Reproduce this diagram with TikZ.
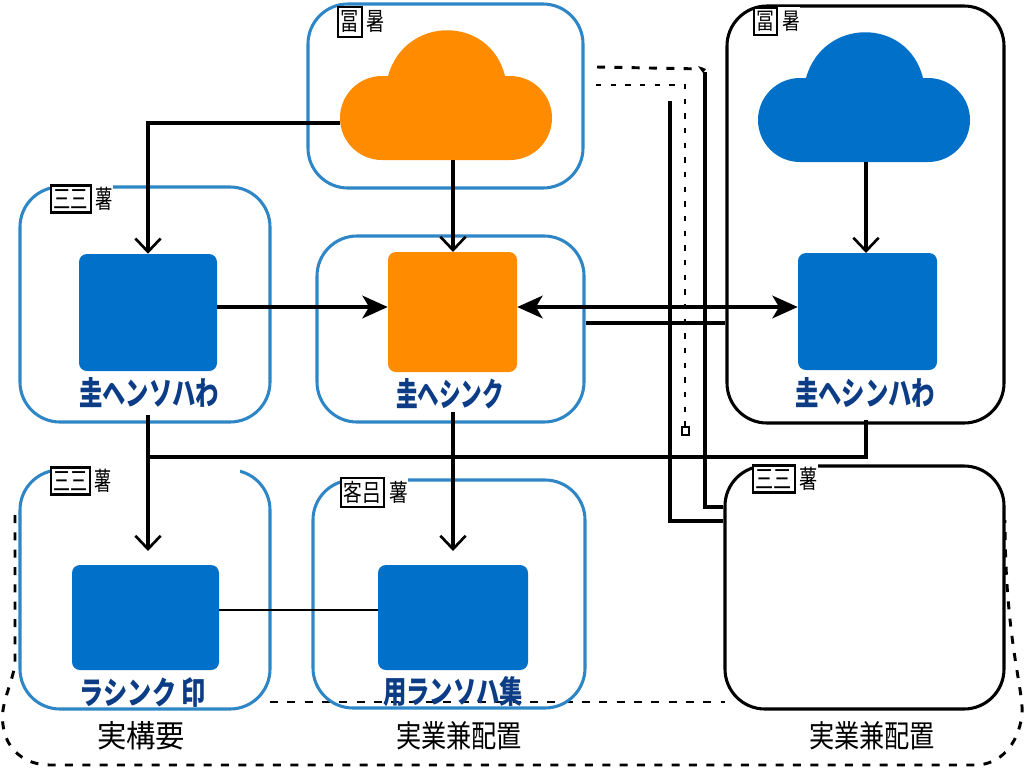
\documentclass[tikz,border=0pt]{standalone}
\usepackage{fontspec}
\setmainfont{Noto Sans CJK JP}
\usetikzlibrary{arrows.meta}
\definecolor{fillblue}{HTML}{0070C8}
\definecolor{fillorange}{HTML}{FF8C00}
\definecolor{edgeblue}{HTML}{2F86C6}
\definecolor{navy}{HTML}{0B3C85}
\tikzset{
  x=0.75pt,y=-0.75pt,
  framebox/.style={draw=#1,line width=2.3pt,rounded corners=30pt,inner sep=0pt},
  solidsq/.style={fill=#1,rounded corners=6pt,inner sep=0pt},
  conn/.style={draw=black,line width=2.3pt},
  openhead/.style={-{Straight Barb[length=10pt,width=19pt,line width=2pt]}},
  headend/.style={-{Stealth[length=19pt,width=17pt,inset=5pt]}},
  headboth/.style={{Stealth[length=19pt,width=17pt,inset=5pt]}-{Stealth[length=19pt,width=17pt,inset=5pt]}},
  dashline/.style={draw=black,line width=2.2pt,dash pattern=on 6pt off 7pt},
  tag/.style={inner sep=0pt,fill=white},
  captionblue/.style={inner sep=0pt,text=navy,font=\bfseries},
  captionblack/.style={inner sep=0pt,text=black},
}
\newdimen\pxunit \pxunit=0.75pt
\newcommand{\fitwh}[3]{\resizebox{#1\pxunit}{#2\pxunit}{#3}}
\newcommand{\boxedtag}[2]{{\setlength{\fboxsep}{1pt}\setlength{\fboxrule}{1pt}\fbox{#1}}#2}
\begin{document}
\begin{tikzpicture}
\useasboundingbox (0,0) rectangle (1024,768);
\fill[white] (0,0) rectangle (1024,768);

% outer dashed boundary
\coordinate (outerstart) at (15,515);
\coordinate (outerend) at (1005,520);
\draw[dashline] (outerstart) -- (15,665) .. controls (10,690) and (0,705) .. (3,725)
   .. controls (6,750) and (25,765) .. (50,765) -- (975,765)
   .. controls (1000,765) and (1018,745) .. (1022,715)
   .. controls (1024,690) and (1005,640) .. (outerend);
\coordinate (innerdashL) at (270,702);
\coordinate (innerdashR) at (725,702);
\draw[dashline] (innerdashL) -- (innerdashR);

% frames
\node[framebox=edgeblue,minimum width=275*0.75pt,minimum height=184*0.75pt] (topframe) at (445.5,96) {};
\node[framebox=edgeblue,minimum width=250*0.75pt,minimum height=235*0.75pt] (leftframe) at (145,304.5) {};
\node[framebox=edgeblue,minimum width=267*0.75pt,minimum height=186*0.75pt] (midframe) at (450.5,329) {};
\node[framebox=black,minimum width=277*0.75pt,minimum height=417*0.75pt] (rightframe) at (865.5,214.5) {};
\node[framebox=edgeblue,minimum width=250*0.75pt,minimum height=239*0.75pt] (lowleftframe) at (145,589.5) {};
\fill[white] (112,465) rectangle (240,475);
\node[framebox=edgeblue,minimum width=272*0.75pt,minimum height=228*0.75pt] (lowmidframe) at (449,594) {};
\node[framebox=black,minimum width=279*0.75pt,minimum height=243*0.75pt] (lowrightframe) at (864.5,587.5) {};

% clouds
\fill[fillorange] (340,118) arc[start angle=180,end angle=270,radius=31.5pt] -- (510,160) arc[start angle=-90,end angle=90,radius=31.5pt] -- (505,76) .. controls (490,15) and (405,15) .. (388,76) -- (382,76) arc[start angle=90,end angle=180,radius=31.5pt] -- cycle;
\fill[fillblue] (758,120) arc[start angle=180,end angle=270,radius=31.5pt] -- (928,162) arc[start angle=-90,end angle=90,radius=31.5pt] -- (923,78) .. controls (908,17) and (823,17) .. (806,78) -- (800,78) arc[start angle=90,end angle=180,radius=31.5pt] -- cycle;
\coordinate (cloudAwest) at (340,123);
\coordinate (cloudAsouth) at (453,160);
\coordinate (cloudBsouth) at (866,162);

% solid squares
\node[solidsq=fillblue,minimum width=138*0.75pt,minimum height=117*0.75pt] (sqleft) at (148,312.5) {};
\node[solidsq=fillorange,minimum width=129*0.75pt,minimum height=120*0.75pt] (sqmid) at (452.5,312) {};
\node[solidsq=fillblue,minimum width=139*0.75pt,minimum height=117*0.75pt] (sqright) at (867.5,311.5) {};
\node[solidsq=fillblue,minimum width=147*0.75pt,minimum height=105*0.75pt] (sqlowleft) at (145.5,617.5) {};
\node[solidsq=fillblue,minimum width=150*0.75pt,minimum height=105*0.75pt] (sqlowmid) at (453,617.5) {};

% helper levels
\coordinate (lvlA) at (0,307);
\coordinate (lvlB) at (0,610);
\coordinate (lvlC) at (0,323);
\coordinate (lvlD) at (0,521);
\coordinate (lvlE) at (0,507);

% connectors
\draw[conn,openhead] (cloudAwest) -- (148,123) -- (sqleft.north);
\draw[conn,openhead] (cloudAsouth) -- (453,252);
\draw[conn,headend] (sqleft.east |- lvlA) -- (sqmid.west |- lvlA);
\draw[conn,headboth] (sqmid.east |- lvlA) -- (sqright.west |- lvlA);
\draw[conn,openhead] (cloudBsouth) -- (866,253);
\coordinate (leftdrop) at (148,415);
\coordinate (middrop) at (453,412);
\coordinate (rightdrop) at (866,420);
\draw[conn,openhead] (leftdrop) -- (148,551);
\draw[conn,openhead] (middrop) -- (453,551);
\draw[conn] (148,457) -- (866,457) -- (rightdrop);
\draw[draw=black,line width=1.1pt] (sqlowleft.east |- lvlB) -- (sqlowmid.west |- lvlB);
\draw[conn] (midframe.east |- lvlC) -- (rightframe.west |- lvlC);
\coordinate (railAtop) at (670,101);
\coordinate (railBtop) at (705,72);
\draw[conn] (railAtop) -- (670,521) -- (lowrightframe.west |- lvlD);
\draw[conn] (railBtop) -- (705,507) -- (lowrightframe.west |- lvlE);

% dashed links
\coordinate (dashAstart) at (597,67);
\coordinate (dashAend) at (703,69);
\coordinate (dashBstart) at (596,85);
\coordinate (dashBend) at (685,432);
\draw[dashline] (dashAstart) -- (dashAend);
\fill[black] (698,66) -- (706,69) -- (703,73) -- cycle;
\draw[dashline,dash pattern=on 4pt off 7pt] (dashBstart) -- (685,85) -- (dashBend);
\draw[black,line width=1pt,fill=white] (682,427) rectangle (689,435);

% corner tags
\node[tag] (tagtop) at (361,22) {\fitwh{48}{25}{\boxedtag{冨}{ 暑}}};
\node[tag] (tagleft) at (81.5,199) {\fitwh{63}{24}{\boxedtag{三三}{ 薯}}};
\node[tag] (tagright) at (776.5,21.5) {\fitwh{47}{23}{\boxedtag{冨}{ 暑}}};
\node[tag] (taglowleft) at (81,481) {\fitwh{62}{24}{\boxedtag{三三}{ 薯}}};
\node[tag] (taglowmid) at (374,492.5) {\fitwh{68}{25}{\boxedtag{客吕}{ 薯}}};
\node[tag] (taglowright) at (785,479) {\fitwh{66}{24}{\boxedtag{三三}{ 薯}}};

% captions in frames
\node[captionblue] (capleft) at (149,393) {\fitwh{140}{28}{圭ヘンソハわ}};
\node[captionblue] (capmid) at (450,394) {\fitwh{108}{28}{圭ヘシンク}};
\node[captionblue] (capright) at (865,393) {\fitwh{140}{28}{圭ヘシンハわ}};
\node[captionblue] (caplowleft) at (143,692) {\fitwh{126}{27}{ラシンク 印}};
\node[captionblue] (caplowmid) at (453,692) {\fitwh{140}{27}{用ランソハ集}};

% captions below frames
\node[captionblack] (notelow) at (141,736) {\fitwh{88}{26}{実構要}};
\node[captionblack] (notemid) at (459,736) {\fitwh{126}{26}{実業兼配置}};
\node[captionblack] (noteright) at (872,736) {\fitwh{126}{26}{実業兼配置}};
\end{tikzpicture}
\end{document}
